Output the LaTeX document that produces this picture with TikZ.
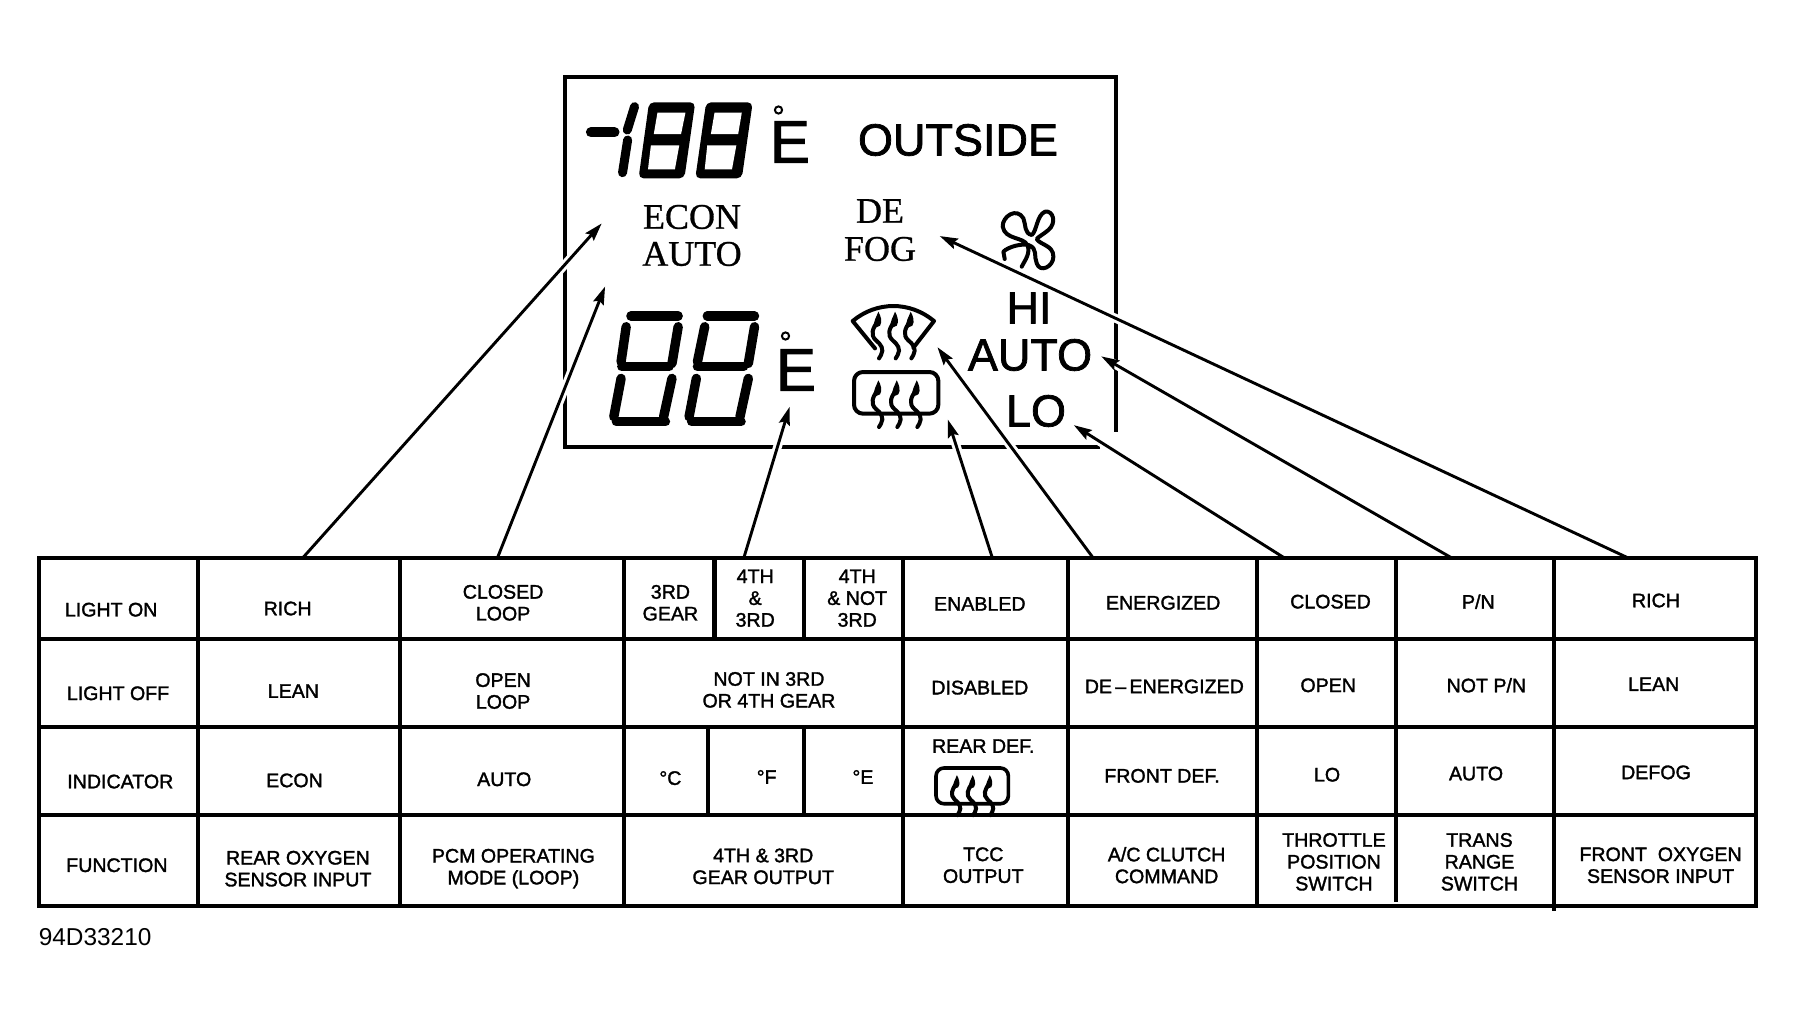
\documentclass[tikz,border=0pt]{standalone}
\usepackage{fontspec}
\setmainfont{Liberation Sans}
\newfontfamily\cellfam[FakeBold=1.6]{Liberation Sans}
\newfontfamily\bigfam[FakeBold=1.6]{Liberation Sans}
\newfontfamily\serifam[FakeBold=0.8]{Liberation Serif}
\usetikzlibrary{arrows.meta}
\tikzset{
  gridline/.style={line width=2.3pt,line cap=rect},
  outerline/.style={line width=2.4pt,line cap=rect,line join=miter},
  framel/.style={line width=2.2pt,line join=miter},
  cell/.style={font=\cellfam\fontsize{9.8}{10.9}\selectfont,align=center,inner sep=0pt},
  big/.style={font=\bigfam\fontsize{22.5}{24}\selectfont,inner sep=0pt},
  bige/.style={font=\bigfam\fontsize{30}{30}\selectfont,inner sep=0pt},
  sertxt/.style={font=\serifam\fontsize{18}{18}\selectfont,inner sep=0pt},
  pointer/.style={line width=1.45pt,-{Stealth[length=9pt,width=5.5pt,inset=1.4pt]}},
  halo/.style={white,line width=4.4pt},
  seg/.style={line width=4.7pt,line cap=round},
  iconl/.style={line width=2pt,line join=round,line cap=round},
  wave/.style={line width=2pt,line cap=round},
  heatwave/.pic={
    \fill (0,0) .. controls (-5,15) and (-17,30) .. (-13,50) -- (5,42) .. controls (13,30) and (7,12) .. (0,0);
    \draw[wave] (-2,30) .. controls (-18,50) and (-24,70) .. (-8,85) .. controls (8,98) and (18,112) .. (8,130) -- (2,140);
  }
}
\begin{document}
\begin{tikzpicture}[x=.5pt,y=-.5pt]
\useasboundingbox (0,0) rectangle (1797,1021);
\fill[white] (0,0) rectangle (1797,1021);

% display frame
\draw[framel] (1100,447) -- (565,447) -- (565,77) -- (1116,77) -- (1116,432);

% arrow ends (reference at 1568 wide)
\begin{scope}[x=.573pt,y=-.573pt]
\coordinate (s1) at (264,487); \coordinate (e1) at (525,195);
\coordinate (s2) at (434,487); \coordinate (e2) at (528,250);
\coordinate (s3) at (649,487); \coordinate (e3) at (689,355);
\coordinate (s4) at (866,487); \coordinate (e4) at (827,366);
\coordinate (s5) at (954,487); \coordinate (e5) at (818,303);
\coordinate (s6) at (1121,487); \coordinate (e6) at (937,371);
\coordinate (s7) at (1267,487); \coordinate (e7) at (961,311);
\coordinate (s8) at (1421,487); \coordinate (e8) at (820,206);
\end{scope}
\foreach \i in {1,...,8} \draw[halo] (s\i) -- (e\i);

% display texts
\node[big] (outside) at (958,140) {OUTSIDE};
\node[big] (hi) at (1029,308) {HI};
\node[big] (auto) at (1030,355) {AUTO};
\node[big] (lo) at (1036,411) {LO};
\node[bige] (e1txt) at (790,142) {E};
\node[bige] (e2txt) at (796,370) {E};
\draw[line width=1pt] (778.5,110) circle (3.6);
\draw[line width=1pt] (785.5,336) circle (3.6);
\node[sertxt] (econ) at (692,217) {ECON};
\node[sertxt] (autos) at (692,254) {AUTO};
\node[sertxt] (de) at (880,211) {DE};
\node[sertxt] (fog) at (880,249) {FOG};

% seven-segment digits, in crop units
\begin{scope}[shift={(560,70)},x=.1818pt,y=-.1667pt]
\draw[line width=5pt,line cap=round] (85,187) -- (150,187);
\draw[line width=4.5pt,line cap=round] (205,110) -- (185,180);
\draw[line width=4.5pt,line cap=round] (186,210) -- (172,308);
\fill[rounded corners=2.5pt] (245,97) -- (372,97) -- (342,325) -- (216,325) -- cycle;
\fill[white] (268,128) -- (345,128) -- (333,192) -- (258,192) -- cycle;
\fill[white] (250,226) -- (328,226) -- (316,298) -- (242,298) -- cycle;
\fill[rounded corners=2.5pt] (402,97) -- (530,97) -- (500,325) -- (372,325) -- cycle;
\fill[white] (425,128) -- (500,128) -- (490,192) -- (415,192) -- cycle;
\fill[white] (405,226) -- (485,226) -- (473,298) -- (398,298) -- cycle;

\draw[seg] (195,738) -- (325,738);
\draw[seg] (182,770) -- (168,875);
\draw[seg] (325,770) -- (308,880);
\draw[seg] (170,890) -- (300,890);
\draw[seg] (168,925) -- (148,1040);
\draw[seg] (308,925) -- (285,1040);
\draw[seg] (155,1055) -- (290,1055);
\draw[seg] (405,738) -- (535,738);
\draw[seg] (398,770) -- (378,875);
\draw[seg] (535,770) -- (518,880);
\draw[seg] (378,890) -- (505,890);
\draw[seg] (375,925) -- (355,1040);
\draw[seg] (518,925) -- (495,1040);
\draw[seg] (362,1055) -- (498,1055);
\end{scope}

% fan and defrost symbols, in crop units
\begin{scope}[shift={(840,195)},x=.1667pt,y=-.1667pt]
\draw[iconl]
  (545,215) .. controls (555,195) and (572,175) .. (562,150)
  .. controls (550,125) and (495,135) .. (488,95)
  .. controls (486,65) and (530,35) .. (550,70)
  .. controls (558,90) and (552,115) .. (575,120)
  .. controls (590,110) and (590,60) .. (615,50)
  .. controls (640,45) and (650,85) .. (625,105)
  .. controls (610,118) and (595,125) .. (590,132)
  .. controls (600,150) and (640,150) .. (640,185)
  .. controls (640,215) and (600,235) .. (590,205)
  .. controls (580,185) and (595,160) .. (565,150)
  .. controls (545,145) and (505,155) .. (490,170)
  -- (494,192);
% windshield
\draw[iconl] (105,460) -- (38,378) .. controls (110,318) and (210,318) .. (282,378) -- (220,458);
\pic at (115,350) {heatwave};
\pic at (165,350) {heatwave};
\pic at (212,350) {heatwave};
\end{scope}

\begin{scope}[shift={(854,372)},x=.1667pt,y=-.1667pt]
\draw[iconl,rounded corners=4.5pt] (0,0) rectangle (253,125);
\pic at (73,25) {heatwave};
\pic at (128,25) {heatwave};
\pic at (188,25) {heatwave};
\end{scope}

% table
\draw[outerline] (39,558) rectangle (1756,906);
\foreach \yy in {639,727,815} \draw[gridline] (39,\yy) -- (1756,\yy);
\foreach \xx in {198,400,624,903,1068,1257} \draw[gridline] (\xx,558) -- (\xx,906);
\draw[gridline,line cap=butt] (1396,558) -- (1396,902);
\draw[gridline,line cap=butt] (1554,558) -- (1554,911);
\draw[gridline] (714.5,558) -- (714.5,639);
\draw[gridline] (804,558) -- (804,639);
\draw[gridline] (708,727) -- (708,815);
\draw[gridline] (804,727) -- (804,815);

% rear defrost symbol in the table
\begin{scope}[shift={(936,768)},x=.143pt,y=-.143pt]
\draw[line width=1.8pt,rounded corners=4pt] (0,0) rectangle (253,125);
\pic at (73,25) {heatwave};
\pic at (128,25) {heatwave};
\pic at (188,25) {heatwave};
\end{scope}

% arrows
\foreach \i in {1,...,8} \draw[pointer] (s\i) -- (e\i);

% table texts
\begin{scope}[x=.573pt,y=-.573pt]
\node[cell] (c11) at (97,532) {LIGHT ON};
\node[cell] (c12) at (251,531) {RICH};
\node[cell] (c13) at (439,526) {CLOSED\\LOOP};
\node[cell] (c14) at (585,526) {3RD\\GEAR};
\node[cell] (c15) at (659,522) {4TH\\\&\\3RD};
\node[cell] (c16) at (748,522) {4TH\\\& NOT\\3RD};
\node[cell] (c17) at (855,527) {ENABLED};
\node[cell] (c18) at (1015,526) {ENERGIZED};
\node[cell] (c19) at (1161,525) {CLOSED};
\node[cell] (c1a) at (1290,525) {P/N};
\node[cell] (c1b) at (1445,524) {RICH};
\node[cell] (c21) at (103,605) {LIGHT OFF};
\node[cell] (c22) at (256,603) {LEAN};
\node[cell] (c23) at (439,603) {OPEN\\LOOP};
\node[cell] (c24) at (671,602) {NOT IN 3RD\\OR 4TH GEAR};
\node[cell] (c25) at (855,600) {DISABLED};
\node[cell] (c26) at (1016,599) {DE\,–\,ENERGIZED};
\node[cell] (c27) at (1159,598) {OPEN};
\node[cell] (c28) at (1297,598) {NOT P/N};
\node[cell] (c29) at (1443,597) {LEAN};
\node[cell] (c31) at (105,682) {INDICATOR};
\node[cell] (c32) at (257,681) {ECON};
\node[cell] (c33) at (440,680) {AUTO};
\node[cell] (c34) at (585,679) {°C};
\node[cell] (c35) at (669,678) {°F};
\node[cell] (c36) at (753,678) {°E};
\node[cell] (c37) at (858,651) {REAR DEF.};
\node[cell] (c38) at (1014,677) {FRONT DEF.};
\node[cell] (c39) at (1158,676) {LO};
\node[cell] (c3a) at (1288,675) {AUTO};
\node[cell] (c3b) at (1445,674) {DEFOG};
\node[cell] (c41) at (102,755) {FUNCTION};
\node[cell] (c42) at (260,758) {REAR OXYGEN\\SENSOR INPUT};
\node[cell] (c43) at (448,758) {PCM OPERATING\\MODE (LOOP)};
\node[cell] (c44) at (666,756) {4TH \& 3RD\\GEAR OUTPUT};
\node[cell] (c45) at (858,755) {TCC\\OUTPUT};
\node[cell] (c46) at (1018,755) {A/C CLUTCH\\COMMAND};
\node[cell] (c47) at (1164,752) {THROTTLE\\POSITION\\SWITCH};
\node[cell] (c48) at (1291,752) {TRANS\\RANGE\\SWITCH};
\node[cell] (c49) at (1449,755) {FRONT\ \ OXYGEN\\SENSOR INPUT};
\node[font=\fontsize{12.2}{14}\selectfont,inner sep=0pt] (code) at (83,818) {94D33210};
\end{scope}
\end{tikzpicture}
\end{document}
